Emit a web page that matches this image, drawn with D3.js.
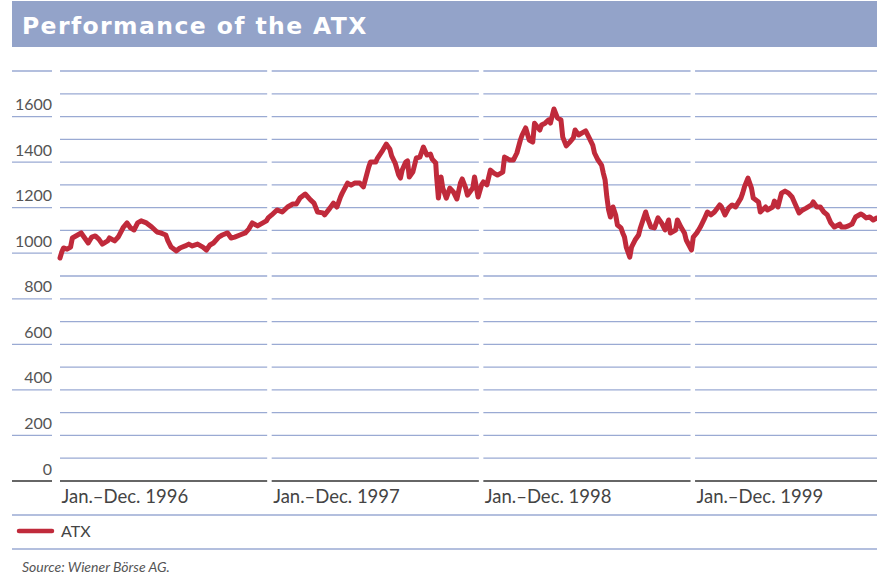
<!DOCTYPE html>
<html>
<head>
<meta charset="utf-8">
<title>Performance of the ATX</title>
<script src="https://cdn.jsdelivr.net/npm/d3@7"></script>
<style>
    html, body { margin: 0; padding: 0; background: #fff; }
    svg { display: block; }
    .ylab text { font-family: Lato, "Open Sans", sans-serif; font-size: 16px; fill: #555; }
    .xlab text { font-family: Lato, "Open Sans", sans-serif; font-size: 18.5px; fill: #444; }
</style>
</head>
<body>
<div id="chartdiv"></div>
<script>
/*jslint browser, white */
/*global d3 */

// months since Jan. 1996 and ATX closing values
var months = [
    0.0, 0.1, 0.2, 0.4, 0.6, 0.7, 1.0, 1.2, 1.4, 1.6, 1.8, 2.0, 2.2, 2.4,
    2.7, 2.8, 3.1, 3.3, 3.6, 3.8, 4.0, 4.2, 4.4, 4.6, 4.9, 5.2, 5.5, 5.7,
    6.0, 6.1, 6.3, 6.6, 6.8, 7.1, 7.3, 7.5, 7.8, 8.1, 8.3, 8.5, 8.7, 9.0,
    9.2, 9.5, 9.7, 9.9, 10.2, 10.5, 10.7, 10.9, 11.2, 11.5, 11.7, 11.8,
    12.0, 12.3, 12.6, 12.9, 13.2, 13.4, 13.6, 13.9, 14.2, 14.4, 14.6, 14.9,
    15.0, 15.3, 15.5, 15.7, 15.9, 16.0, 16.3, 16.5, 16.7, 17.0, 17.2, 17.5,
    17.6, 17.9, 18.0, 18.3, 18.5, 18.7, 18.8, 19.0, 19.2, 19.3, 19.4, 19.6,
    19.7, 19.8, 20.0, 20.2, 20.4, 20.6, 20.8, 21.0, 21.1, 21.3, 21.35, 21.45,
    21.6, 21.7, 21.9, 22.1, 22.3, 22.5, 22.7, 22.8, 23.0, 23.1, 23.4, 23.5,
    23.7, 23.9, 24.0, 24.2, 24.4, 24.6, 24.8, 25.1, 25.2, 25.5, 25.7, 25.9,
    26.1, 26.2, 26.4, 26.6, 26.8, 26.9, 27.2, 27.3, 27.5, 27.7, 27.8, 28.0,
    28.2, 28.4, 28.5, 28.7, 28.9, 29.1, 29.2, 29.4, 29.6, 29.8, 30.0, 30.2,
    30.3, 30.5, 30.7, 30.8, 30.9, 31.0, 31.1, 31.2, 31.35, 31.5, 31.6, 31.8,
    31.9, 32.0, 32.1, 32.3, 32.4, 32.6, 32.8, 32.9, 33.2, 33.3, 33.5, 33.7,
    33.9, 34.1, 34.3, 34.5, 34.6, 34.9, 35.0, 35.2, 35.4, 35.5, 35.8, 35.9,
    36.1, 36.3, 36.5, 36.7, 36.9, 37.1, 37.4, 37.5, 37.7, 37.9, 38.1, 38.3,
    38.6, 38.7, 38.8, 39.0, 39.2, 39.3, 39.6, 39.7, 40.0, 40.1, 40.4, 40.5,
    40.7, 40.9, 41.1, 41.3, 41.5, 41.7, 41.9, 42.1, 42.3, 42.6, 42.7, 42.9,
    43.1, 43.3, 43.5, 43.7, 43.9, 44.2, 44.3, 44.5, 44.7, 44.9, 45.1, 45.4,
    45.5, 45.7, 45.9, 46.1, 46.3, 46.4
];
var atx = [
    979, 1005, 1023, 1018, 1027, 1067, 1080, 1089, 1067, 1045, 1071, 1076, 1062, 1040,
    1054, 1067, 1054, 1071, 1115, 1133, 1111, 1102, 1133, 1142, 1133, 1115, 1093, 1089,
    1080, 1058, 1027, 1010, 1023, 1032, 1040, 1032, 1040, 1027, 1014, 1036, 1045, 1071,
    1080, 1089, 1067, 1071, 1080, 1089, 1106, 1133, 1120, 1133, 1142, 1155,
    1168, 1190, 1181, 1203, 1216, 1216, 1242, 1260, 1234, 1220, 1181, 1177,
    1168, 1198, 1220, 1203, 1247, 1264, 1308, 1299, 1308, 1308, 1291, 1378,
    1400, 1400, 1418, 1453, 1479, 1457, 1427, 1396, 1343, 1330, 1365, 1400,
    1405, 1335, 1356, 1418, 1422, 1466, 1431, 1435, 1413, 1396, 1335, 1242,
    1335, 1286, 1242, 1286, 1269, 1238, 1308, 1326, 1286, 1255, 1286, 1335,
    1247, 1300, 1313, 1300, 1365, 1352, 1343, 1356, 1422, 1409, 1409, 1440,
    1497, 1519, 1550, 1497, 1488, 1571, 1541, 1563, 1571, 1585, 1571, 1633,
    1594, 1585, 1510, 1471, 1488, 1506, 1541, 1519, 1528, 1537, 1506, 1475,
    1440, 1409, 1387, 1352, 1322, 1247, 1190, 1159, 1203, 1168, 1124, 1111,
    1089, 1071, 1027, 983, 1027, 1058, 1080, 1111, 1181, 1155, 1115, 1111,
    1155, 1133, 1102, 1146, 1089, 1102, 1146, 1115, 1089, 1058, 1014, 1071,
    1089, 1115, 1146, 1181, 1168, 1181, 1212, 1203, 1168, 1198, 1212, 1203,
    1242, 1264, 1291, 1330, 1286, 1242, 1225, 1181, 1203, 1190, 1203, 1229,
    1203, 1264, 1273, 1264, 1247, 1212, 1177, 1190, 1198, 1212, 1225, 1203,
    1203, 1181, 1168, 1133, 1115, 1128, 1115, 1115, 1120, 1128, 1159, 1172,
    1168, 1155, 1159, 1146, 1155, 1150
];

var yearStarts = [0, 12, 24, 36];
var yearLabels = ["Jan.\u2013Dec. 1996", "Jan.\u2013Dec. 1997",
                  "Jan.\u2013Dec. 1998", "Jan.\u2013Dec. 1999"];
var gridValues = d3.range(100, 1900, 100);
var yTicks = [0, 200, 400, 600, 800, 1000, 1200, 1400, 1600];
var axisColumnLines = d3.range(200, 2000, 200);

var chartTitle = "Performance of the ATX";
var legendLabel = "ATX";
var sourceNote = "Source: Wiener B\u00f6rse AG.";

(function () {
    "use strict";

    var W = 877, H = 582,
        blue = "#9aaad3",
        red = "#c02a3b",
        svg, x, y, yAxis, xAxis, grid, pts;

    svg = d3.select("#chartdiv").append("svg")
        .attr("width", W)
        .attr("height", H);

    // months 0..48 over four equal year panels
    x = d3.scaleLinear().domain([0, 48]).range([60, 60 + 48 * 17.64]);
    y = d3.scaleLinear().domain([0, 1800]).range([481, 71]);

    // title bar
    svg.append("rect")
        .attr("x", 12).attr("y", 1)
        .attr("width", W - 12).attr("height", 46)
        .attr("fill", "#93a3c9");
    svg.append("text")
        .attr("x", 22).attr("y", 34)
        .attr("font-family", "'DejaVu Sans', sans-serif")
        .attr("font-weight", "bold")
        .attr("font-size", 23.5)
        .attr("letter-spacing", 1.4)
        .attr("fill", "#fff")
        .text(chartTitle);

    // grid, broken at each year boundary
    grid = svg.append("g").attr("class", "grid");
    yearStarts.forEach(function (m) {
        var x0 = x(m), x1 = Math.min(x(m + 12) - 4.5, W);
        grid.selectAll(null)
            .data(gridValues)
            .enter().append("line")
            .attr("x1", x0).attr("x2", x1)
            .attr("y1", function (d) { return y(d); })
            .attr("y2", function (d) { return y(d); })
            .attr("stroke", blue)
            .attr("stroke-width", 1.3);
        grid.append("line")
            .attr("x1", x0).attr("x2", x1)
            .attr("y1", y(0)).attr("y2", y(0))
            .attr("stroke", "#333")
            .attr("stroke-width", 1.4);
    });
    // short rules under the axis labels
    grid.selectAll(null)
        .data(axisColumnLines)
        .enter().append("line")
        .attr("x1", 12).attr("x2", 52)
        .attr("y1", function (d) { return y(d); })
        .attr("y2", function (d) { return y(d); })
        .attr("stroke", blue)
        .attr("stroke-width", 1.3);
    grid.append("line")
        .attr("x1", 12).attr("x2", 52)
        .attr("y1", y(0)).attr("y2", y(0))
        .attr("stroke", "#333")
        .attr("stroke-width", 1.4);

    // value labels sit just above their rule
    yAxis = d3.axisLeft(y).tickValues(yTicks).tickSize(0).tickPadding(0)
        .tickFormat(d3.format("d"));
    svg.append("g")
        .attr("class", "ylab")
        .attr("transform", "translate(52,0)")
        .call(yAxis)
        .call(function (g) { g.select(".domain").remove(); })
        .selectAll("text")
        .attr("dy", "-7px");

    xAxis = d3.axisBottom(x).tickValues(yearStarts).tickSize(0).tickPadding(0)
        .tickFormat(function (d, i) { return yearLabels[i]; });
    svg.append("g")
        .attr("class", "xlab")
        .attr("transform", "translate(0,503)")
        .call(xAxis)
        .call(function (g) { g.select(".domain").remove(); })
        .selectAll("text")
        .attr("text-anchor", "start")
        .attr("x", 1)
        .attr("dy", 0);

    // ATX line
    pts = months.map(function (m, i) { return [m, atx[i]]; });
    svg.append("path")
        .datum(pts)
        .attr("fill", "none")
        .attr("stroke", red)
        .attr("stroke-width", 5)
        .attr("stroke-linejoin", "round")
        .attr("stroke-linecap", "round")
        .attr("d", d3.line()
            .x(function (d) { return x(d[0]); })
            .y(function (d) { return y(d[1]); }));

    // legend and source, between blue rules
    svg.append("line")
        .attr("x1", 12).attr("x2", W).attr("y1", 515).attr("y2", 515)
        .attr("stroke", blue).attr("stroke-width", 1.3);
    svg.append("line")
        .attr("x1", 19).attr("x2", 52).attr("y1", 531).attr("y2", 531)
        .attr("stroke", red).attr("stroke-width", 4.5)
        .attr("stroke-linecap", "round");
    svg.append("text")
        .attr("x", 61).attr("y", 537)
        .attr("font-family", "Lato, sans-serif")
        .attr("font-size", 16)
        .attr("fill", "#444")
        .text(legendLabel);
    svg.append("line")
        .attr("x1", 12).attr("x2", W).attr("y1", 549).attr("y2", 549)
        .attr("stroke", blue).attr("stroke-width", 1.3);
    svg.append("text")
        .attr("x", 22).attr("y", 572)
        .attr("font-family", "Lato, sans-serif")
        .attr("font-style", "italic")
        .attr("font-size", 14)
        .attr("fill", "#555")
        .text(sourceNote);
}());
</script>
</body>
</html>
